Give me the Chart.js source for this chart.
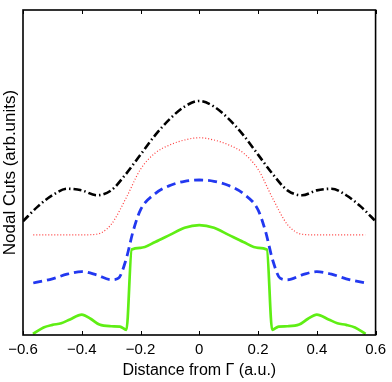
<!DOCTYPE html>
<html>
<head>
<meta charset="utf-8">
<script src="https://cdn.jsdelivr.net/npm/chart.js@4"></script>
<style>
  html, body { margin: 0; padding: 0; background: #fff; }
  #wrap { width: 392px; height: 382px; }
</style>
</head>
<body>
<div id="wrap"><canvas id="chartCuts"></canvas></div>
<script>
// datos (eje y en unidades arbitrarias 0-100)
const xTicks = [-0.6, -0.4, -0.2, 0, 0.2, 0.4, 0.6];

const xBlack = [-0.6, -0.55, -0.5, -0.45, -0.4, -0.35, -0.3, -0.25, -0.2, -0.15, -0.1, -0.05, 0, 0.05, 0.1, 0.15, 0.2, 0.25, 0.3, 0.35, 0.4, 0.45, 0.5, 0.55, 0.6];
const yBlack = [35, 39.5, 43, 45, 44.5, 43, 44.5, 49.5, 55.5, 61.5, 66.5, 70.3, 72, 70.3, 66.5, 61.5, 55.5, 49.5, 44.5, 43, 44.5, 45, 43, 39.5, 35];

const xRed = [-0.565, -0.5, -0.45, -0.4, -0.35, -0.3, -0.25, -0.2, -0.15, -0.1, -0.05, 0, 0.05, 0.1, 0.15, 0.2, 0.25, 0.3, 0.35, 0.4, 0.45, 0.5, 0.565];
const yRed = [30.8, 30.8, 30.8, 30.8, 31, 34, 42, 51, 56, 58.5, 60, 60.7, 60, 58.5, 56, 51, 42, 34, 31, 30.8, 30.8, 30.8, 30.8];

const xBlue = [-0.565, -0.5, -0.45, -0.4, -0.35, -0.3, -0.275, -0.25, -0.225, -0.2, -0.15, -0.1, -0.05, 0, 0.05, 0.1, 0.15, 0.2, 0.225, 0.25, 0.275, 0.3, 0.35, 0.4, 0.45, 0.5, 0.565];
const yBlue = [16, 17.3, 18.7, 19.5, 18.5, 17, 17.5, 23, 32, 38.5, 43.5, 46, 47.3, 47.7, 47.3, 46, 43.5, 38.5, 32, 23, 17.5, 17, 18.5, 19.5, 18.7, 17.3, 16];

const xGreen = [-0.566, -0.53, -0.5, -0.47, -0.44, -0.4, -0.37, -0.34, -0.3, -0.27, -0.248, -0.23, -0.2, -0.15, -0.1, -0.05, 0, 0.05, 0.1, 0.15, 0.2, 0.23, 0.248, 0.27, 0.3, 0.34, 0.37, 0.4, 0.44, 0.47, 0.5, 0.53, 0.566];
const yGreen = [0.3, 2.3, 3.1, 3.6, 4.8, 6.3, 5, 3.2, 2.7, 2.6, 1.6, 26.3, 26.8, 28.6, 30.8, 33, 33.8, 33, 30.8, 28.6, 26.8, 26.3, 1.6, 2.6, 2.7, 3.2, 5, 6.3, 4.8, 3.6, 3.1, 2.3, 0.3];

function pts(xs, ys) { return xs.map((x, i) => ({ x: x, y: ys[i] })); }

// caja y marcas interiores como en matlab
const boxPlugin = {
    id: 'box',
    afterDraw(chart) {
        const ctx = chart.ctx, a = chart.chartArea, sx = chart.scales.x;
        ctx.save();
        ctx.strokeStyle = '#000'; ctx.lineWidth = 1;
        xTicks.forEach(t => {
            const px = Math.round(sx.getPixelForValue(t)) + 0.5;
            ctx.beginPath();
            ctx.moveTo(px, a.bottom); ctx.lineTo(px, a.bottom - 4);
            ctx.moveTo(px, a.top); ctx.lineTo(px, a.top + 4);
            ctx.stroke();
        });
        ctx.lineWidth = 1.6;
        ctx.strokeRect(a.left, a.top, a.right - a.left, a.bottom - a.top);
        ctx.restore();
    }
};

const font = 'Liberation Sans, Arial, sans-serif';

new Chart(document.getElementById('chartCuts'), {
    type: 'scatter',
    data: {
        datasets: [
            { label: 'c1', data: pts(xBlack, yBlack), borderColor: '#000000', borderWidth: 2.6, borderDash: [8, 3, 1.5, 3], cubicInterpolationMode: 'monotone' },
            { label: 'c2', data: pts(xRed, yRed), borderColor: '#ff3b3b', borderWidth: 1.2, borderDash: [1, 2], cubicInterpolationMode: 'monotone' },
            { label: 'c3', data: pts(xBlue, yBlue), borderColor: '#2238f0', borderWidth: 2.8, borderDash: [9, 5], cubicInterpolationMode: 'monotone' },
            { label: 'c4', data: pts(xGreen, yGreen), borderColor: '#5fee14', borderWidth: 2.7, cubicInterpolationMode: 'monotone' }
        ].map(d => Object.assign(d, { showLine: true, pointRadius: 0, fill: false }))
    },
    options: {
        responsive: true, maintainAspectRatio: false, animation: false,
        layout: { padding: { top: 10, right: 14, left: 0, bottom: 0 } },
        plugins: { legend: { display: false }, tooltip: { enabled: false } },
        scales: {
            x: {
                type: 'linear', min: -0.6, max: 0.6,
                afterBuildTicks: s => { s.ticks = xTicks.map(v => ({ value: v })); },
                afterFit: s => { s.height = 47; },
                grid: { display: false, drawTicks: false },
                border: { display: false },
                ticks: { color: '#000', padding: 6, maxRotation: 0, font: { family: font, size: 15 },
                    callback: v => (v === 0 ? '0' : String(v).replace('-', '\u2212')) },
                title: { display: true, text: 'Distance from \u0393 (a.u.)', color: '#000', padding: { top: 0, bottom: 2 }, font: { family: font, size: 16 } }
            },
            y: {
                min: 0, max: 100,
                afterFit: s => { s.width = 23; },
                grid: { display: false, drawTicks: false },
                border: { display: false },
                ticks: { display: false },
                title: { display: true, text: 'Nodal Cuts (arb.units)', color: '#000', padding: { top: 0, bottom: 4 }, font: { family: font, size: 17 } }
            }
        }
    },
    plugins: [boxPlugin]
});
</script>
</body>
</html>
